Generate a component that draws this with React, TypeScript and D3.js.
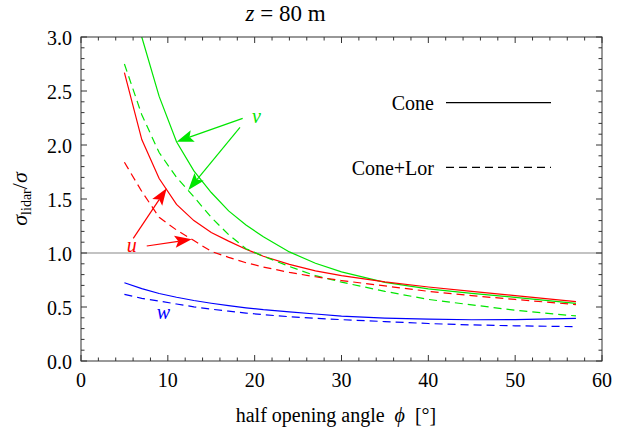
import React from 'react';
import * as d3 from 'd3';

// half opening angle (deg) at which the ratios were read
const phi = [5, 7, 9, 11, 13, 15, 17, 19, 21, 24, 27, 30, 35, 40, 45, 50, 57];

// sigma_lidar / sigma, cone scanning
const uCone = [2.67, 2.05, 1.69, 1.45, 1.30, 1.19, 1.11, 1.035, 0.97, 0.895, 0.835, 0.79, 0.732, 0.685, 0.645, 0.605, 0.549];
const vCone = [3.95, 3.0, 2.45, 2.03, 1.76, 1.56, 1.39, 1.26, 1.15, 1.01, 0.905, 0.825, 0.728, 0.667, 0.626, 0.59, 0.534];
const wCone = [0.725, 0.67, 0.625, 0.59, 0.56, 0.535, 0.512, 0.492, 0.475, 0.455, 0.435, 0.415, 0.397, 0.387, 0.382, 0.384, 0.395];

// cone + Lorentzian weighting
const uLor = [1.84, 1.57, 1.33, 1.213, 1.115, 1.015, 0.96, 0.91, 0.87, 0.82, 0.78, 0.745, 0.695, 0.645, 0.605, 0.57, 0.522];
const vLor = [2.75, 2.28, 1.93, 1.70, 1.52, 1.33, 1.17, 1.04, 0.97, 0.875, 0.79, 0.73, 0.645, 0.57, 0.52, 0.47, 0.417];
const wLor = [0.617, 0.58, 0.555, 0.528, 0.502, 0.48, 0.461, 0.444, 0.429, 0.41, 0.395, 0.383, 0.365, 0.347, 0.334, 0.326, 0.318];

const xTicks = [0, 10, 20, 30, 40, 50, 60];
const yTicks = [0, 0.5, 1, 1.5, 2, 2.5, 3];

// annotation arrows [x0, y0, x1, y1] in data units
const vArrows = [[18.62, 2.247, 11.02, 2.031], [18.31, 2.164, 12.36, 1.583]];
const uArrows = [[6.02, 1.136, 9.87, 1.599], [7.57, 1.065, 12.75, 1.127]];

const W = 624, H = 431;
const left = 81, right = 602, top = 37, bottom = 361;
const serif = 'Liberation Serif, Times New Roman, Times, DejaVu Serif';
const green = '#00e600';

export default function App() {
    const x = d3.scaleLinear().domain([0, 60]).range([left, right]);
    const y = d3.scaleLinear().domain([0, 3]).range([bottom, top]);

    const line = d3.line<number>()
        .x((_, i) => x(phi[i]))
        .y(d => y(d));

    const series = [
        { d: vCone, c: green, dash: undefined },
        { d: uCone, c: '#ff0000', dash: undefined },
        { d: wCone, c: '#0000ff', dash: undefined },
        { d: vLor, c: green, dash: '8,5' },
        { d: uLor, c: '#ff0000', dash: '8,5' },
        { d: wLor, c: '#0000ff', dash: '8,5' },
    ];

    const minorX = d3.range(0, 61, 2).filter(v => v % 10 !== 0);
    const minorY = d3.range(0, 31).map(v => v / 10).filter(v => Math.round(v * 10) % 5 !== 0);

    const arrow = (a: number[], color: string, key: string) => {
        const x0 = x(a[0]), y0 = y(a[1]), x1 = x(a[2]), y1 = y(a[3]);
        const ang = Math.atan2(y1 - y0, x1 - x0);
        const L = 17, hw = 6;
        const ux = Math.cos(ang), uy = Math.sin(ang);
        const bx = x1 - ux * L, by = y1 - uy * L;
        const nx = x1 - ux * L * 0.8, ny = y1 - uy * L * 0.8;
        const pts = [
            [x1, y1],
            [bx - uy * hw, by + ux * hw],
            [nx, ny],
            [bx + uy * hw, by - ux * hw],
        ];
        return (
            <g key={key}>
                <line x1={x0} y1={y0} x2={nx} y2={ny} stroke={color} strokeWidth={1.2} />
                <polygon points={pts.map(p => p.join(',')).join(' ')} fill={color} />
            </g>
        );
    };

    return (
        <svg width={W} height={H} style={{ position: 'absolute', left: 0, top: 0, background: '#fff' }}>
            <defs>
                <clipPath id="plot">
                    <rect x={left} y={top} width={right - left} height={bottom - top} />
                </clipPath>
            </defs>

            {/* reference line at 1 */}
            <line x1={left} x2={right} y1={y(1)} y2={y(1)} stroke="#888" strokeWidth={1.2} />

            <g clipPath="url(#plot)">
                {series.map((s, i) => (
                    <path key={i} d={line(s.d) || ''} fill="none" stroke={s.c}
                        strokeWidth={1.2} strokeDasharray={s.dash} />
                ))}
            </g>

            {/* frame and ticks */}
            <rect x={left} y={top} width={right - left} height={bottom - top} fill="none" stroke="#333" strokeWidth={1} />
            <g fontFamily={serif}>
                <text x={285.5} y={21} fontSize={23} textAnchor="middle">
                    <tspan fontStyle="italic">z</tspan> = 80 m
                </text>
                {xTicks.map(t => (
                    <g key={'xt' + t}>
                        <line x1={x(t)} x2={x(t)} y1={bottom} y2={bottom - 6} stroke="#333" />
                        <line x1={x(t)} x2={x(t)} y1={top} y2={top + 6} stroke="#333" />
                        <text x={x(t)} y={387} fontSize={20} textAnchor="middle">{t}</text>
                    </g>
                ))}
                {minorX.map(t => (
                    <g key={'xm' + t}>
                        <line x1={x(t)} x2={x(t)} y1={bottom} y2={bottom - 3.5} stroke="#333" />
                        <line x1={x(t)} x2={x(t)} y1={top} y2={top + 3.5} stroke="#333" />
                    </g>
                ))}
                {yTicks.map(t => (
                    <g key={'yt' + t}>
                        <line x1={left} x2={left + 6} y1={y(t)} y2={y(t)} stroke="#333" />
                        <line x1={right} x2={right - 6} y1={y(t)} y2={y(t)} stroke="#333" />
                        <text x={72} y={y(t) + 8} fontSize={20} textAnchor="end">{t.toFixed(1)}</text>
                    </g>
                ))}
                {minorY.map(t => (
                    <g key={'ym' + t}>
                        <line x1={left} x2={left + 3.5} y1={y(t)} y2={y(t)} stroke="#333" />
                        <line x1={right} x2={right - 3.5} y1={y(t)} y2={y(t)} stroke="#333" />
                    </g>
                ))}

                {/* axis labels */}
                <text x={336} y={421.5} fontSize={20} textAnchor="middle" style={{ whiteSpace: 'pre' }}>
                    {'half opening angle  '}<tspan fontStyle="italic">ϕ</tspan>{'  [°]'}
                </text>
                <text transform={`translate(27,199) rotate(-90)`} fontSize={22} textAnchor="middle">
                    <tspan fontStyle="italic">σ</tspan>
                    <tspan fontSize={14} dy={4}>lidar</tspan>
                    <tspan dy={-4}>/</tspan>
                    <tspan fontStyle="italic">σ</tspan>
                </text>

                {/* annotations */}
                {vArrows.map((a, i) => arrow(a, green, 'v' + i))}
                {uArrows.map((a, i) => arrow(a, '#ff0000', 'u' + i))}
                <text x={x(20.2)} y={y(2.2)} fontSize={20} fontStyle="italic" fill={green} textAnchor="middle">v</text>
                <text x={x(5.84)} y={y(1.0) - 1} fontSize={20} fontStyle="italic" fill="#ff0000" textAnchor="middle">u</text>
                <text x={x(9.5)} y={y(0.39)} fontSize={20} fontStyle="italic" fill="#0000ff" textAnchor="middle">w</text>

                {/* legend */}
                <text x={434} y={109.5} fontSize={20} textAnchor="end">Cone</text>
                <line x1={446} x2={551} y1={102.7} y2={102.7} stroke="#000" strokeWidth={1.2} />
                <text x={434} y={174.5} fontSize={20} textAnchor="end">Cone+Lor</text>
                <line x1={446} x2={551} y1={167.3} y2={167.3} stroke="#000" strokeWidth={1.2} strokeDasharray="8,5" />
            </g>
        </svg>
    );
}
